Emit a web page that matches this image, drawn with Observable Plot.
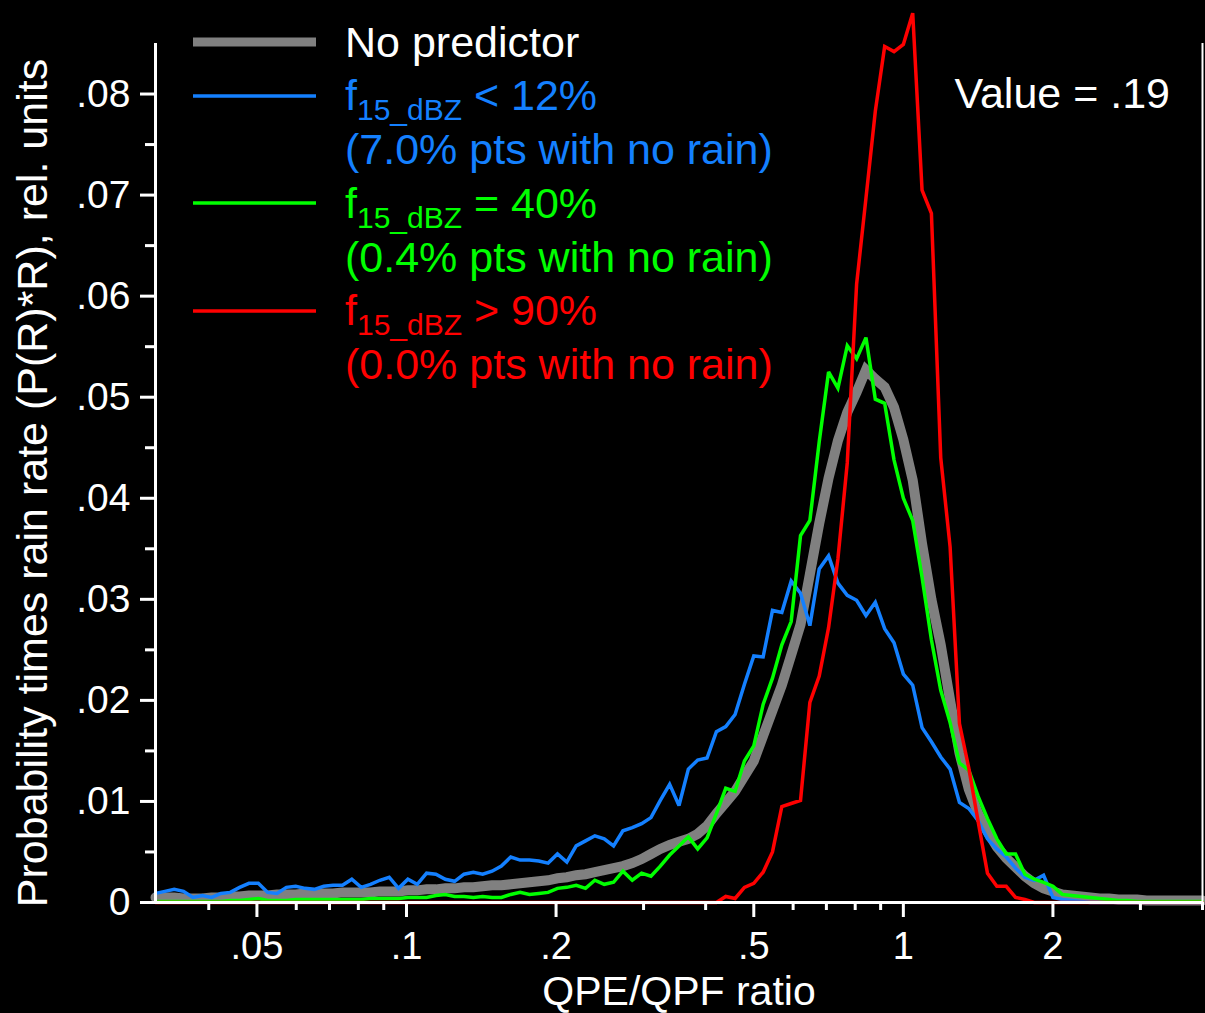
<!DOCTYPE html>
<html>
<head>
<meta charset="utf-8">
<script src="https://cdn.jsdelivr.net/npm/d3@7"></script>
<script src="https://cdn.jsdelivr.net/npm/@observablehq/plot@0.6"></script>
<style>
  html, body { margin: 0; padding: 0; background: #000; }
  #wrap { position: relative; width: 1205px; height: 1013px; background: #000; overflow: hidden; }
  #wrap > svg { position: absolute; left: 0; top: 0; }
  #legend { pointer-events: none; }
</style>
</head>
<body>
<div id="wrap"></div>
<script>
// ---------------- DATA ----------------
// Bin centres: 16 bins per octave, from 1/32 to 4 (QPE/QPF ratio)
const binExponents = d3.range(-80, 33);             // k, ratio = 2^(k/16)
const ratio = binExponents.map(k => Math.pow(2, k / 16));

// No predictor (gray)
const noPredictor = [
  .0005,.0005,.0005,.0004,.0004,.0004,.0005,.0005,.0006,.0006,.0007,.0007,.0007,.0008,.0008,.0008,
  .0009,.0009,.0009,.0009,.0010,.0010,.0010,.0010,.0011,.0011,.0011,.0012,.0012,.0013,.0013,.0014,
  .0014,.0015,.0015,.0016,.0017,.0017,.0018,.0019,.0020,.0021,.0022,.0024,.0025,.0027,.0028,.0030,
  .0032,.0034,.0036,.0039,.0043,.0048,.0053,.0057,.0060,.0063,.0068,.0076,.0088,.0099,.0110,.0125,
  .0140,.0165,.0190,.0215,.0245,.0275,.0325,.0375,.0420,.0457,.0485,.0505,.0527,.0518,.0510,.0490,
  .0458,.0418,.0355,.0300,.0255,.0200,.0148,.0112,.0088,.0070,.0055,.0044,.0035,.0026,.0019,.0014,
  .0011,.0008,.0007,.0006,.0005,.0004,.0004,.0003,.0003,.0003,.0002,.0002,.0002,.0002,.0002,.0002,
  .0002
];
// f15_dBZ < 12% (blue)
const fLow = [
  .0009,.0011,.0013,.0011,.0005,.0007,.0005,.0009,.0010,.0015,.0019,.0019,.0010,.0009,.0015,.0016,
  .0014,.0013,.0016,.0017,.0017,.0023,.0015,.0018,.0022,.0025,.0014,.0023,.0018,.0029,.0028,.0023,
  .0021,.0028,.0030,.0028,.0031,.0036,.0045,.0042,.0042,.0041,.0039,.0048,.0040,.0056,.0061,.0066,
  .0063,.0056,.0071,.0074,.0078,.0084,.0101,.0117,.0096,.0132,.0141,.0143,.0169,.0174,.0186,.0216,
  .0244,.0243,.0289,.0287,.0318,.0306,.0274,.0330,.0343,.0316,.0304,.0299,.0284,.0297,.0271,.0257,
  .0226,.0215,.0173,.0159,.0144,.0132,.0099,.0093,.0081,.0063,.0053,.0045,.0034,.0025,.0022,.0027,
  .0005,.0003,.0002,.0001,0,0,0,0,0,0,0,0,0,0,0,0,
  0
];
// f15_dBZ = 40% (green)
const fMid = [
  .0001,.0001,.0001,.0001,.0001,.0001,.0001,.0001,.0002,.0002,.0003,.0004,.0002,.0002,.0002,.0003,
  .0003,.0003,.0003,.0003,.0003,.0003,.0003,.0004,.0004,.0004,.0004,.0005,.0005,.0005,.0007,.0008,
  .0006,.0006,.0005,.0006,.0005,.0005,.0008,.0010,.0008,.0009,.0010,.0014,.0015,.0017,.0014,.0022,
  .0018,.0020,.0031,.0022,.0029,.0026,.0036,.0047,.0056,.0065,.0053,.0064,.0088,.0113,.0110,.0140,
  .0155,.0196,.0222,.0255,.0278,.0363,.0378,.0456,.0525,.0509,.0551,.0538,.0559,.0498,.0494,.0438,
  .0400,.0378,.0322,.0260,.0210,.0178,.0138,.0131,.0105,.0083,.0063,.0048,.0048,.0028,.0023,.0020,
  .0016,.0008,.0007,.0006,.0005,.0004,.0003,.0002,.0002,.0001,.0001,.0001,.0001,.0001,.0001,.0001,
  .0001
];
// f15_dBZ > 90% (red)
const fHigh = [
  0,0,0,0,0,0,0,0,0,0,0,0,0,0,0,0,
  0,0,0,0,0,0,0,0,0,0,0,0,0,0,0,0,
  0,0,0,0,0,0,0,0,0,0,0,0,0,0,0,0,
  0,0,0,0,0,0,0,0,0,0,0,0,0,.0006,.0004,.0015,
  .0019,.0030,.0050,.0095,.0098,.0101,.0198,.0224,.0272,.0340,.0435,.0612,.0697,.0783,.0847,.0842,
  .0849,.0880,.0705,.0682,.0440,.0352,.0177,.0133,.0080,.0029,.0016,.0016,.0005,.0003,0,0,
  0,0,0,0,0,0,0,0,0,0,0,0,0,0,0,0,
  0
];

const yMajorTicks = [0, .01, .02, .03, .04, .05, .06, .07, .08];
const yMinorTicks = [.005, .015, .025, .035, .045, .055, .065, .075];
const xMajorTicks = [.05, .1, .2, .5, 1, 2];
const xMinorTicks = [.04, .06, .07, .08, .09, .3, .4, .6, .7, .8, .9, 3, 4];

const seriesNames  = ["No predictor", "f15_dBZ < 12%", "f15_dBZ = 40%", "f15_dBZ > 90%"];
const seriesColors = ["#808080", "#1480ff", "#00ff00", "#ff0000"];
const legendSuffix = ["", " < 12%", " = 40%", " > 90%"];
const legendNoRain = ["", "(7.0% pts with no rain)", "(0.4% pts with no rain)", "(0.0% pts with no rain)"];

const xTitle = "QPE/QPF ratio";
const yTitle = "Probability times rain rate (P(R)*R), rel. units";
const valueNote = "Value = .19";

// ---------------- BUILD ----------------
const seriesValues = [noPredictor, fLow, fMid, fHigh];
const seriesWidths = [10, 3.5, 3.5, 3.5];
const tables = seriesValues.map(vals => ratio.map((r, i) => ({r, v: vals[i]})));

const FONT = "'Liberation Sans', Arial, Helvetica, sans-serif";
const fmtY = v => v === 0 ? "0" : d3.format(".2f")(v).replace(/^0/, "");
const fmtX = v => v < 1 ? String(v).replace(/^0/, "") : String(v);

const chart = Plot.plot({
  width: 1205,
  height: 1013,
  marginLeft: 155,
  marginRight: 3,
  marginTop: 43,
  marginBottom: 111,
  x: {type: "log", domain: [1 / 32, 4], label: null},
  y: {domain: [0, 0.085], label: null},
  style: {background: "black", color: "white", fontFamily: FONT, overflow: "visible"},
  marks: [
    ...tables.map((t, i) => Plot.line(t, {
      x: "r", y: "v", stroke: seriesColors[i], strokeWidth: seriesWidths[i],
      strokeLinejoin: "miter", strokeMiterlimit: 3
    })),
    Plot.ruleY([0], {stroke: "white", strokeWidth: 3}),
    Plot.ruleX([1 / 32], {stroke: "white", strokeWidth: 3}),
    Plot.ruleX([4], {stroke: "white", strokeWidth: 2}),
    Plot.axisY(yMajorTicks, {tickSize: 15, tickPadding: 10, strokeWidth: 3, fontSize: 39, tickFormat: fmtY, label: null}),
    Plot.axisY(yMinorTicks, {tickSize: 10, strokeWidth: 3, tickFormat: () => "", label: null}),
    Plot.axisX(xMajorTicks, {tickSize: 15, tickPadding: 15, strokeWidth: 3, fontSize: 38, tickFormat: fmtX, label: null}),
    Plot.axisX(xMinorTicks, {tickSize: 8, strokeWidth: 3, tickFormat: () => "", label: null}),
    Plot.text([xTitle], {frameAnchor: "bottom", textAnchor: "middle", lineAnchor: "middle", dy: 89, fontSize: 41, fill: "white"}),
    Plot.text([yTitle], {frameAnchor: "left", textAnchor: "middle", lineAnchor: "middle", rotate: -90, dx: -122, dy: 10, fontSize: 43, fill: "white"})
  ]
});
document.getElementById("wrap").appendChild(chart);

// ---------------- LEGEND (overlay) ----------------
const svg = d3.select("#wrap").append("svg")
  .attr("id", "legend")
  .attr("width", 1205).attr("height", 1013)
  .style("font-family", FONT);

const lineY = [42, 96, 203, 311];
const baseY = [57, 110, 218, 325];
seriesNames.forEach((name, i) => {
  svg.append("line")
    .attr("x1", 193).attr("x2", 316)
    .attr("y1", lineY[i]).attr("y2", lineY[i])
    .attr("stroke", seriesColors[i])
    .attr("stroke-width", i === 0 ? 9 : 3.5);
  const t = svg.append("text")
    .attr("x", 345).attr("y", baseY[i])
    .attr("fill", i === 0 ? "white" : seriesColors[i])
    .attr("font-size", 43);
  if (i === 0) {
    t.text(name);
  } else {
    t.append("tspan").text("f");
    t.append("tspan").attr("font-size", 30).attr("dy", 10).text("15_dBZ");
    t.append("tspan").attr("font-size", 43).attr("dy", -10).text(legendSuffix[i]);
    svg.append("text")
      .attr("x", 345).attr("y", baseY[i] + 54)
      .attr("fill", seriesColors[i])
      .attr("font-size", 43)
      .text(legendNoRain[i]);
  }
});

svg.append("text")
  .attr("x", 1170).attr("y", 108)
  .attr("text-anchor", "end")
  .attr("fill", "white")
  .attr("font-size", 43)
  .text(valueNote);
</script>
</body>
</html>
